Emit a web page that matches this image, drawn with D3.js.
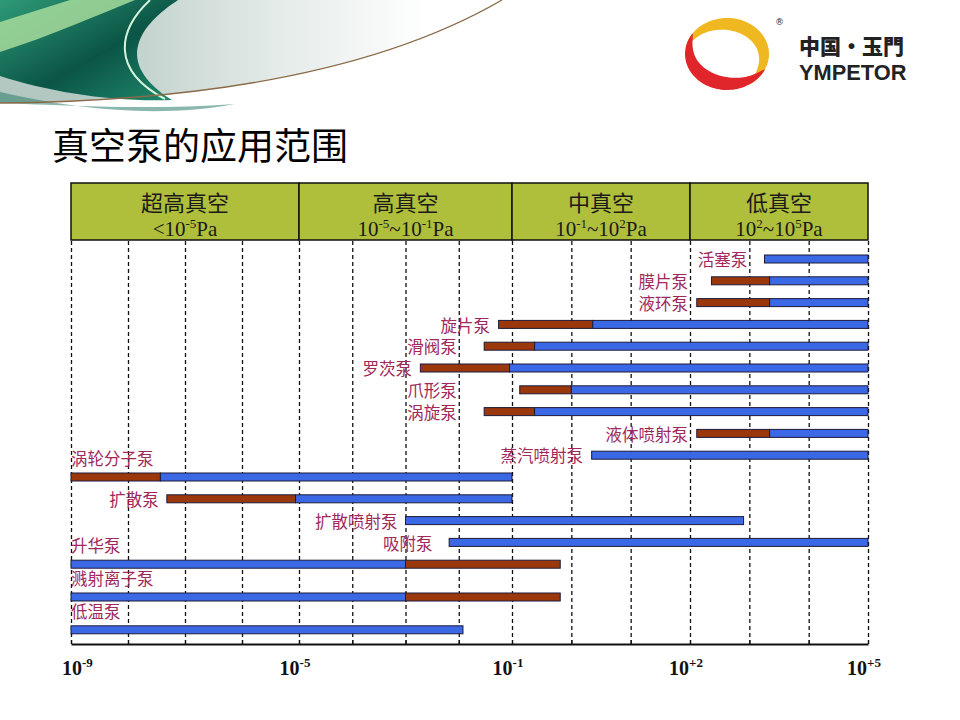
<!DOCTYPE html>
<html>
<head>
<meta charset="utf-8">
<script src="https://cdn.jsdelivr.net/npm/d3@7"></script>
<style>
    body { margin: 0; background: #fff; }
    svg { display: block; }
</style>
</head>
<body>
<div id="chart"></div>
<script>
// Bombas, de cima para baixo (pressões em Pa)
var pumpNames = ["活塞泵", "膜片泵", "液环泵", "旋片泵", "滑阀泵", "罗茨泵", "爪形泵", "涡旋泵",
    "液体喷射泵", "蒸汽喷射泵", "涡轮分子泵", "扩散泵", "扩散喷射泵", "吸附泵", "升华泵", "溅射离子泵", "低温泵"];
// faixa principal (azul)
var mainLow = [1.8e3, 2.2e3, 2.2e3, 2.3, 2.4e-1, 9e-2, 1, 2.4e-1, 2.2e3, 2.2, 3.7e-8, 8.7e-6, 1e-3, 6.6e-3, 1e-9, 1e-9, 1e-9];
var mainHigh = [1e5, 1e5, 1e5, 1e5, 1e5, 1e5, 1e5, 1e5, 1e5, 1e5, 1e-1, 1e-1, 8e2, 1e5, 1e-3, 1e-3, 1.2e-2];
// faixa estendida (marrom), null quando não existe
var extLow = [null, 2.3e2, 1.3e2, 5.6e-2, 3e-2, 1.9e-3, 1.35e-1, 3e-2, 1.3e2, null, 1e-9, 4.8e-8, null, null, 1e-3, 1e-3, null];
var extHigh = [null, 2.2e3, 2.2e3, 2.3, 2.4e-1, 9e-2, 1, 2.4e-1, 2.2e3, null, 3.7e-8, 8.7e-6, null, null, 6.5e-1, 6.5e-1, null];
// onde termina o nome da bomba (Pa); null = logo antes da barra
var labelEnd = [1e3, 1e2, 1e2, 4.2e-2, 1e-2, 1.45e-3, 1e-2, 1e-2, 1e2, 1.7, null, null, null, 3.5e-3, null, null, null];

// Zonas do cabeçalho (expoentes)
var zoneNames = ["超高真空", "高真空", "中真空", "低真空"];
var zoneLow = [null, -5, -1, 2];
var zoneHigh = [-5, -1, 2, 5];

// Eixo inferior
var tickExps = [-9, -5, -1, 2, 5];
var tickSups = ["-9", "-5", "-1", "+2", "+5"];

var width = 960, height = 720;
var headTop = 183, headBottom = 240, axisY = 644;
var rowTop = 259, rowStep = 21.8, rowExtra = 11, barH = 8;
var labelColor = "#a0285a";
var cjk = "'Noto Sans CJK SC', sans-serif";
var serif = "'Liberation Serif', 'Times New Roman', serif";

var svg = d3.select("#chart").append("svg")
    .attr("width", width)
    .attr("height", height);

var defs = svg.append("defs");

// escala por zonas: cada zona tem largura própria no desenho original
var x = d3.scaleLinear()
    .domain(tickExps)
    .range([71, 299, 512, 690, 868]);
var xp = p => x(Math.log10(p));

drawBackground();
drawLogo();

// Título
svg.append("text")
    .attr("x", 52)
    .attr("y", 160)
    .attr("font-family", cjk)
    .attr("font-size", 37)
    .attr("font-weight", 400)
    .attr("fill", "#000")
    .text("真空泵的应用范围");

// Linhas tracejadas verticais (uma por década)
var grid = svg.append("g")
    .attr("transform", `translate(0,${axisY})`)
    .call(d3.axisBottom(x).tickValues(d3.range(-9, 6)).tickSize(-(axisY - headBottom)).tickFormat(""));
grid.select(".domain").remove();
grid.selectAll(".tick line")
    .attr("stroke", "#111")
    .attr("stroke-width", 1.3)
    .attr("stroke-dasharray", "4,3");

// Eixo inferior com pequenos traços
var axis = svg.append("g")
    .attr("transform", `translate(0,${axisY})`)
    .call(d3.axisBottom(x).tickValues(d3.range(-9, 6)).tickSize(-4).tickSizeOuter(0).tickFormat(""));
axis.select(".domain").attr("stroke", "#111").attr("stroke-width", 1.8);
axis.selectAll(".tick line").attr("stroke", "#111").attr("stroke-width", 1.2);

// Rótulos 10^n
var tickLabels = svg.append("g").selectAll("text")
    .data(tickExps)
    .join("text")
    .attr("x", (d, i) => i === 0 ? x(d) - 9 : x(d) - 4)
    .attr("y", 675)
    .attr("text-anchor", (d, i) => i === 0 ? "start" : "middle")
    .attr("font-family", serif)
    .attr("font-weight", "bold")
    .attr("font-size", 20)
    .attr("fill", "#111");
tickLabels.append("tspan").text("10");
tickLabels.append("tspan")
    .attr("font-size", 13)
    .attr("dy", -8)
    .text((d, i) => tickSups[i]);

// Cabeçalho
var head = svg.append("g");
zoneNames.forEach(function (name, i) {
    var x0 = x(zoneLow[i] === null ? tickExps[0] : zoneLow[i]);
    var x1 = x(zoneHigh[i]);
    head.append("rect")
        .attr("x", x0)
        .attr("y", headTop)
        .attr("width", x1 - x0)
        .attr("height", headBottom - headTop)
        .attr("fill", "#b0bf3b")
        .attr("stroke", "#111")
        .attr("stroke-width", 1.5);
    head.append("text")
        .attr("x", (x0 + x1) / 2)
        .attr("y", 211)
        .attr("text-anchor", "middle")
        .attr("font-family", cjk)
        .attr("font-size", 22)
        .attr("fill", "#1a1a1a")
        .text(name);
    var t = head.append("text")
        .attr("x", (x0 + x1) / 2)
        .attr("y", 236)
        .attr("text-anchor", "middle")
        .attr("font-family", serif)
        .attr("font-size", 21)
        .attr("fill", "#1a1a1a");
    if (zoneLow[i] === null) {
        t.append("tspan").text("<10");
    } else {
        t.append("tspan").text("10");
        t.append("tspan").attr("font-size", 13).attr("dy", -8).text(zoneLow[i]);
        t.append("tspan").attr("dy", 8).text("~10");
    }
    t.append("tspan").attr("font-size", 13).attr("dy", -8).text(zoneHigh[i]);
    t.append("tspan").attr("dy", 8).text("Pa");
});

// Barras
var minP = Math.pow(10, tickExps[0]);
var startOf = i => Math.min(mainLow[i], extLow[i] === null ? Infinity : extLow[i]);
// rótulo acima da barra quando ela começa na borda esquerda
var labelAbove = i => startOf(i) <= minP * 1.0001;

var rowY = [];
pumpNames.forEach(function (name, i) {
    if (i === 0) { rowY.push(rowTop); return; }
    var y = rowY[i - 1] + rowStep;
    if (labelAbove(i) && labelAbove(i - 1)) y += rowExtra;
    rowY.push(y);
});

var bars = svg.append("g");
pumpNames.forEach(function (name, i) {
    var y = rowY[i];
    if (extLow[i] !== null) {
        bars.append("rect")
            .attr("x", xp(extLow[i]))
            .attr("y", y - barH / 2)
            .attr("width", xp(extHigh[i]) - xp(extLow[i]))
            .attr("height", barH)
            .attr("fill", "#9a380c")
            .attr("stroke", "#1d1b3a")
            .attr("stroke-width", 1);
    }
    bars.append("rect")
        .attr("x", xp(mainLow[i]))
        .attr("y", y - barH / 2)
        .attr("width", xp(mainHigh[i]) - xp(mainLow[i]))
        .attr("height", barH)
        .attr("fill", "#3b68e4")
        .attr("stroke", "#1d1b3a")
        .attr("stroke-width", 1);

    var above = labelAbove(i);
    var lx = above ? xp(startOf(i)) : (labelEnd[i] !== null ? xp(labelEnd[i]) - 2 : xp(startOf(i)) - 8);
    bars.append("text")
        .attr("x", lx)
        .attr("y", above ? y - 18 : y + 1)
        .attr("dy", "0.38em")
        .attr("text-anchor", above ? "start" : "end")
        .attr("font-family", cjk)
        .attr("font-size", 16.5)
        .attr("fill", labelColor)
        .text(name);
});

function drawBackground() {
    var g1 = defs.append("linearGradient").attr("id", "greyFade")
        .attr("x1", "0%").attr("x2", "100%").attr("y1", "0%").attr("y2", "0%");
    g1.append("stop").attr("offset", "15%").attr("stop-color", "#b4c8c2");
    g1.append("stop").attr("offset", "55%").attr("stop-color", "#e4ebe8");
    g1.append("stop").attr("offset", "85%").attr("stop-color", "#ffffff");

    var g2 = defs.append("linearGradient").attr("id", "teal")
        .attr("x1", "0%").attr("x2", "100%").attr("y1", "0%").attr("y2", "100%");
    g2.append("stop").attr("offset", "0%").attr("stop-color", "#2e9a78");
    g2.append("stop").attr("offset", "55%").attr("stop-color", "#0b5546");
    g2.append("stop").attr("offset", "100%").attr("stop-color", "#1f8a6c");

    var bg = svg.append("g");
    bg.append("path")
        .attr("d", "M0,0 L502,0 Q330,100 0,103 Z")
        .attr("fill", "url(#greyFade)");
    bg.append("path")
        .attr("d", "M0,92 C80,110 160,118 235,104 C150,110 80,106 0,103 Z")
        .attr("fill", "#2b7d68")
        .attr("opacity", 0.55);
    bg.append("path")
        .attr("d", "M0,0 L178,0 C140,25 112,62 172,100 C110,102 50,92 0,76 Z")
        .attr("fill", "url(#teal)");
    bg.append("path")
        .attr("d", "M0,22 L70,0 L135,0 C95,16 50,36 0,52 Z")
        .attr("fill", "#a6dc9c")
        .attr("opacity", 0.85);
    bg.append("path")
        .attr("d", "M150,0 C118,30 110,70 165,99")
        .attr("fill", "none")
        .attr("stroke", "#d4f5da")
        .attr("stroke-width", 2);
    bg.append("path")
        .attr("d", "M0,103 Q330,100 502,0")
        .attr("fill", "none")
        .attr("stroke", "#8a6a48")
        .attr("stroke-width", 1.3);
}

function drawLogo() {
    var cx = 727, cy = 54, rx = 42, ry = 36;
    function band(a0, a1, wmax) {
        var n = 60, outer = [], inner = [];
        for (var k = 0; k <= n; k++) {
            var t = k / n;
            var a = (a0 + (a1 - a0) * t) * Math.PI / 180;
            var w = wmax * Math.pow(Math.sin(Math.PI * t), 0.7);
            outer.push([cx + rx * Math.cos(a), cy + ry * Math.sin(a)]);
            inner.push([cx + (rx - w) * Math.cos(a), cy + (ry - w) * Math.sin(a)]);
        }
        return d3.line()(outer.concat(inner.reverse())) + "Z";
    }
    var logo = svg.append("g");
    logo.append("path").attr("d", band(190, 420, 13)).attr("fill", "#f0b820");
    logo.append("path").attr("d", band(215, 25, 14)).attr("fill", "#e0262a");

    logo.append("text")
        .attr("x", 775).attr("y", 25)
        .attr("font-family", "'DejaVu Sans', sans-serif")
        .attr("font-size", 9)
        .attr("fill", "#333")
        .text("®");
    logo.append("text")
        .attr("x", 799).attr("y", 54)
        .attr("font-family", cjk)
        .attr("font-weight", 900)
        .attr("font-size", 21)
        .attr("fill", "#222")
        .text("中国·玉門");
    logo.append("text")
        .attr("x", 799).attr("y", 80)
        .attr("font-family", "'Liberation Sans', Arial, sans-serif")
        .attr("font-weight", "bold")
        .attr("font-size", 21.8)
        .attr("fill", "#222")
        .text("YMPETOR");
}
</script>
</body>
</html>
